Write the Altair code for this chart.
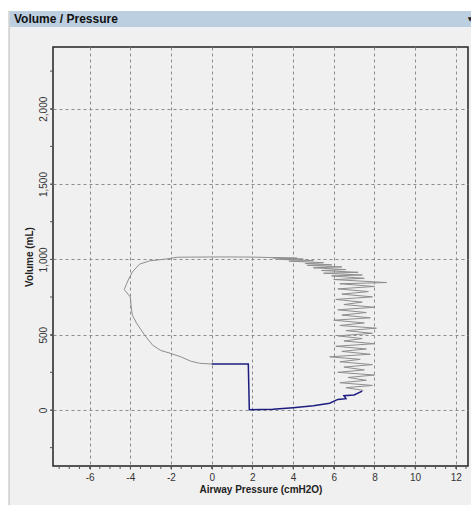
import altair as alt
import pandas as pd

# ---- data ----
# previous breath (grey): start at end of inspiration, zig-zag up, across the top, down the left side
gray_p = [7.45,
          6.6, 7.9, 6.3, 7.6, 6.7, 8.0, 6.2, 7.5, 6.5, 7.9, 6.3, 7.3, 5.8, 7.8, 6.4, 7.6,
          6.1, 8.0, 6.5, 7.4, 6.2, 7.9, 6.6, 8.1, 6.3, 7.5, 6.0, 7.8, 6.4, 7.6, 6.2, 8.0,
          6.5, 7.4, 6.1, 7.9, 6.4, 7.7, 6.2, 8.0, 6.3, 8.6, 6.0, 7.5, 5.9, 7.4, 5.5, 7.2,
          5.4, 6.6, 5.0, 6.4, 4.7, 5.9, 4.6, 5.5, 3.8, 5.0, 3.3, 4.5, 3.0, 4.2,
          2.0, 0.5, -1.0, -1.7, -2.2, -3.05, -3.55, -3.9, -4.1, -4.3, -4.0, -3.95, -3.9,
          -3.7, -3.3, -2.9, -2.5, -2.0, -1.5, -1.05, -0.6, 0.0]
gray_v = [130,
          148, 163, 181, 197, 216, 232, 250, 266, 285, 301, 320, 336, 353, 370, 389, 405,
          423, 440, 458, 474, 492, 509, 527, 543, 561, 578, 596, 612, 630, 647, 665, 682,
          700, 716, 734, 751, 769, 786, 804, 820, 838, 846, 866, 874, 890, 896, 908, 914,
          926, 932, 944, 950, 960, 964, 972, 978, 988, 992, 1000, 1002, 1010, 1008,
          1015, 1016, 1015, 1014, 1003, 990, 968, 916, 863, 800, 750, 680, 630,
          578, 498, 430, 395, 375, 352, 325, 310, 305]

# current breath (blue)
blue_p = [0.0, 1.8, 1.85, 3.0, 4.0, 5.0, 5.8, 6.2, 6.6, 6.5, 7.0, 7.4]
blue_v = [305, 305, 2, 5, 15, 28, 45, 70, 75, 95, 100, 125]

x_major = [-6, -4, -2, 0, 2, 4, 6, 8, 10, 12]
x_minor = [v / 2 for v in range(-15, 26)]
y_major = [0, 500, 1000, 1500, 2000]
y_minor = [-250, 250, 750, 1250, 1750, 2250]

title_text = "Volume / Pressure"
x_title = "Airway Pressure (cmH2O)"
y_title = "Volume (mL)"

rows = []
for i, (p, v) in enumerate(zip(gray_p, gray_v)):
    rows.append({"series": "prev", "idx": i, "p": p, "v": v})
for i, (p, v) in enumerate(zip(blue_p, blue_v)):
    rows.append({"series": "curr", "idx": i, "p": p, "v": v})
df = pd.DataFrame(rows)
df_xminor = pd.DataFrame({"p": x_minor})
df_yminor = pd.DataFrame({"v": y_minor + y_major})

FONT = "Liberation Sans"

x_scale = alt.Scale(domain=[-7.8, 12.6], nice=False, zero=False)
y_scale = alt.Scale(domain=[-372, 2410], nice=False, zero=False)

x_axis = alt.Axis(
    values=x_major,
    title=x_title,
    labelExpr="'' + datum.value",
    labelOverlap=False,
    grid=True, gridDash=[3, 3], gridColor="#8c8c8c", gridWidth=1,
    domain=False, tickSize=3, tickColor="#555",
    labelFont=FONT, labelFontSize=10, labelColor="#333", labelPadding=3,
    titleFont=FONT, titleFontSize=10, titleFontWeight="bold", titleColor="#222",
    titlePadding=2,
)
y_axis = alt.Axis(
    values=y_major,
    title=y_title,
    labelExpr="format(datum.value, ',')",
    labelOverlap=False,
    grid=True, gridDash=[3, 3], gridColor="#8c8c8c", gridWidth=1,
    domain=False, tickSize=3, tickColor="#555",
    labelAngle=-90, labelAlign="center", labelBaseline="bottom",
    labelFont=FONT, labelFontSize=10, labelColor="#333", labelPadding=2,
    titleFont=FONT, titleFontSize=10, titleFontWeight="bold", titleColor="#222",
    titlePadding=4,
)

X = alt.X("p:Q", scale=x_scale, axis=x_axis)
Y = alt.Y("v:Q", scale=y_scale, axis=y_axis)

gray = alt.Chart(df).transform_filter(alt.datum.series == "prev").mark_line(
    color="#8e8e8e", strokeWidth=1
).encode(x=X, y=Y, order="idx:Q")
blue = alt.Chart(df).transform_filter(alt.datum.series == "curr").mark_line(
    color="#1c1c80", strokeWidth=1.5
).encode(x=X, y=Y, order="idx:Q")

xminor = alt.Chart(df_xminor).mark_rule(color="#555", strokeWidth=1).encode(
    x=X, y=alt.value(419), y2=alt.value(422))
yminor = alt.Chart(df_yminor).mark_rule(color="#555", strokeWidth=1).encode(
    y=Y, x=alt.value(-3), x2=alt.value(0))

one = pd.DataFrame({"a": [0]})
white_top = alt.Chart(one).mark_rect(color="white").encode(
    x=alt.value(-53), x2=alt.value(418), y=alt.value(-47), y2=alt.value(-36))
white_left = alt.Chart(one).mark_rect(color="white").encode(
    x=alt.value(-53), x2=alt.value(-44), y=alt.value(-47), y2=alt.value(458))
left_line = alt.Chart(one).mark_rule(color="#b8b8b8", strokeWidth=1).encode(
    x=alt.value(-44), y=alt.value(-36), y2=alt.value(458))
title_bar = alt.Chart(one).mark_rect(color="#bccfe0").encode(
    x=alt.value(-43), x2=alt.value(418), y=alt.value(-36), y2=alt.value(-20))
title_txt = alt.Chart(one).mark_text(
    text=title_text, font=FONT, fontSize=12, fontWeight="bold", color="#111",
    align="left", baseline="middle"
).encode(x=alt.value(-39), y=alt.value(-28))
arrow_txt = alt.Chart(one).mark_text(
    text="▼", font="DejaVu Sans", fontSize=6, color="#222", align="center", baseline="middle"
).encode(x=alt.value(417), y=alt.value(-28))

chart = alt.layer(
    white_top, white_left, left_line, title_bar, title_txt, arrow_txt,
    xminor, yminor, gray, blue
).properties(
    width=415, height=419,
    autosize=alt.AutoSizeParams(type="none"),
    padding={"left": 53, "top": 47, "right": 3, "bottom": 39},
    background="#f0f0f0",
).configure_view(stroke="#222", strokeWidth=1.5, fill=None)

chart.save("out.html", embed_options={"renderer": "svg", "actions": False})
